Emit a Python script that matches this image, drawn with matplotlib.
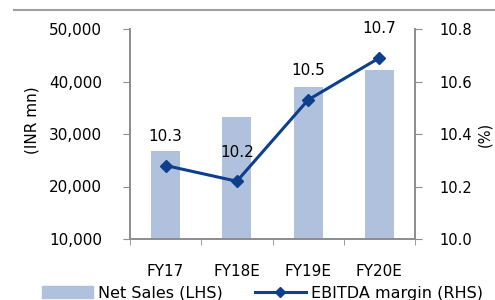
import matplotlib
matplotlib.use('Agg')
import matplotlib.pyplot as plt
from matplotlib.lines import Line2D
from matplotlib.ticker import FuncFormatter

# data
years = ['FY17', 'FY18E', 'FY19E', 'FY20E']
net_sales = [26800, 33200, 38900, 42200]
ebitda_margin = [10.28, 10.22, 10.53, 10.69]
margin_labels = ['10.3', '10.2', '10.5', '10.7']

bar_color = '#b0c1de'
line_color = '#0d3f8c'
spine_color = '#8c8c8c'

plt.rcParams['font.family'] = ['DejaVu Sans']
plt.rcParams['font.size'] = 11

fig = plt.figure(figsize=(4.95, 3.0), dpi=100)
ax = fig.add_axes([130 / 495, 1 - 239 / 300, 285 / 495, 210 / 300])
x = list(range(len(years)))

ax.bar(x, net_sales, width=0.41, color=bar_color, zorder=1)
ax.set_xlim(-0.5, 3.5)
ax.set_ylim(10000, 50000)
ax.set_yticks([10000, 20000, 30000, 40000, 50000])
ax.yaxis.set_major_formatter(FuncFormatter(lambda v, p: f'{v:,.0f}'))
ax.set_xticks(x)
ax.set_xticklabels(years)
ax.set_xticks([-0.5, 0.5, 1.5, 2.5, 3.5], minor=True)
ax.tick_params(axis='x', which='major', length=0, pad=18)
ax.tick_params(axis='x', which='minor', length=4, color=spine_color)
ax.tick_params(axis='y', length=5, color=spine_color, pad=15)

ax2 = ax.twinx()
ax2.plot(x, ebitda_margin, color=line_color, lw=2.2, marker='D', ms=6.5, zorder=3)
ax2.set_ylim(10.0, 10.8)
ax2.set_yticks([10.0, 10.2, 10.4, 10.6, 10.8])
ax2.yaxis.set_major_formatter(FuncFormatter(lambda v, p: f'{v:.1f}'))
ax2.tick_params(axis='y', length=5, color=spine_color, pad=12.5, labelsize=10.5)

for i, (v, lab) in enumerate(zip(ebitda_margin, margin_labels)):
    ax2.annotate(lab, (i, v), xytext=(0, 21), textcoords='offset points',
                 ha='center', va='center')

for a in (ax, ax2):
    a.spines['top'].set_visible(False)
    for s in ('left', 'right', 'bottom'):
        a.spines[s].set_color(spine_color)
        a.spines[s].set_linewidth(1.2)

# axis titles
fig.text(32 / 495, 1 - 120 / 300, '(INR mn)', rotation=90, ha='center', va='center')
fig.text(485 / 495, 1 - 134 / 300, '(%)', rotation=90, ha='center', va='center',
         fontsize=10.5)

# separator line at top
fig.add_artist(Line2D([14 / 495, 1], [1 - 10 / 300, 1 - 10 / 300],
                      color='#a0a0a0', lw=1.5))

handles = [plt.Rectangle((0, 0), 1, 1, color=bar_color),
           Line2D([], [], color=line_color, lw=2.2, marker='D', ms=5)]
fig.legend(handles, ['Net Sales (LHS)', 'EBITDA margin (RHS)'],
           loc='lower center', bbox_to_anchor=(0.53, -0.05), ncol=2,
           frameon=False, fontsize=11.5, handlelength=3.2, handletextpad=0.3,
           columnspacing=2.0)

fig.savefig('out.png', dpi=100)
